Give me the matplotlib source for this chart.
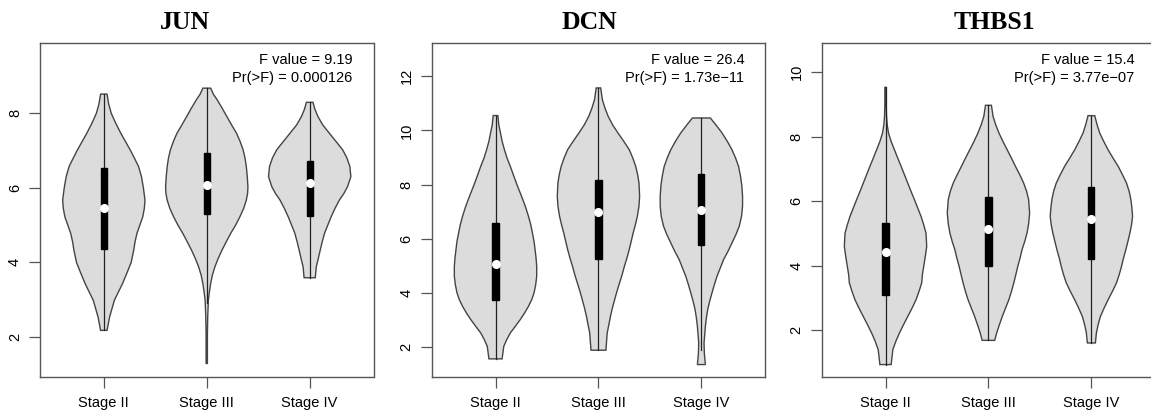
import numpy as np
import matplotlib
matplotlib.use("Agg")
import matplotlib.pyplot as plt

plt.rcParams["font.family"] = ["Liberation Sans", "DejaVu Sans"]

# categories and annotation text
stages = ["Stage II", "Stage III", "Stage IV"]
genes = ["JUN", "DCN", "THBS1"]
f_values = ["9.19", "26.4", "15.4"]
p_values = ["0.000126", "1.73e\u221211", "3.77e\u221207"]

# box stats per stage: lower whisker, q1, median, q3, upper whisker
jun_lo = [2.18, 2.90, 3.59]
jun_q1 = [4.35, 5.30, 5.24]
jun_med = [5.45, 6.08, 6.12]
jun_q3 = [6.54, 6.93, 6.72]
jun_hi = [8.51, 8.67, 8.29]

dcn_lo = [1.56, 1.88, 1.90]
dcn_q1 = [3.75, 5.25, 5.76]
dcn_med = [5.08, 6.98, 7.05]
dcn_q3 = [6.58, 8.15, 8.40]
dcn_hi = [10.55, 11.57, 10.46]

thbs1_lo = [0.94, 1.69, 1.61]
thbs1_q1 = [3.10, 3.98, 4.21]
thbs1_med = [4.43, 5.14, 5.45]
thbs1_q3 = [5.34, 6.13, 6.44]
thbs1_hi = [9.53, 8.97, 8.65]

# density outlines (expression level, relative density)
jun_levels = [
    [8.51, 8.25, 8.0, 7.73, 7.46, 7.23, 7.0, 6.78, 6.57, 6.3, 6.0, 5.67, 5.45, 5.22, 5.0, 4.78, 4.55, 4.33, 4.0, 3.72, 3.43, 3.2, 2.99, 2.75, 2.54, 2.18],
    [8.67, 8.5, 8.36, 8.14, 7.91, 7.68, 7.46, 7.24, 7.02, 6.8, 6.57, 6.3, 6.03, 5.85, 5.67, 5.45, 5.22, 5.0, 4.78, 4.55, 4.33, 4.1, 3.88, 3.65, 3.43, 3.2, 2.99, 2.54, 2.09, 1.29],
    [8.29, 8.1, 7.91, 7.68, 7.46, 7.24, 7.02, 6.8, 6.57, 6.3, 6.03, 5.85, 5.67, 5.45, 5.22, 5.0, 4.78, 4.55, 4.33, 4.1, 3.88, 3.59],
]
jun_dens = [
    [10, 15, 23, 37, 53, 68, 83, 96, 108, 117, 123, 128, 126, 121, 112, 103, 97, 93, 85, 72, 58, 45, 33, 25, 18, 10],
    [12, 21, 32, 47, 62, 77, 92, 103, 112, 118, 122, 125, 127, 126, 122, 114, 102, 89, 74, 60, 47, 35, 25, 17, 12, 8, 5, 3, 2, 2],
    [10, 16, 25, 40, 60, 80, 100, 113, 122, 125, 115, 104, 90, 77, 65, 55, 45, 38, 32, 26, 20, 17],
]

dcn_levels = [
    [10.55, 10.2, 9.91, 9.6, 9.29, 8.98, 8.67, 8.33, 8.0, 7.72, 7.44, 7.14, 6.83, 6.52, 6.21, 5.9, 5.6, 5.3, 4.98, 4.61, 4.3, 4.0, 3.75, 3.5, 3.25, 3.01, 2.76, 2.52, 2.27, 2.02, 1.56],
    [11.57, 11.14, 10.83, 10.52, 10.2, 9.91, 9.6, 9.29, 8.98, 8.67, 8.36, 8.06, 7.57, 7.2, 6.83, 6.52, 6.21, 5.9, 5.6, 5.29, 4.98, 4.67, 4.36, 4.05, 3.75, 3.44, 3.13, 2.82, 2.52, 1.88],
    [10.46, 10.2, 9.91, 9.6, 9.29, 8.98, 8.67, 8.3, 7.94, 7.57, 7.2, 6.83, 6.46, 6.15, 5.84, 5.53, 5.23, 4.92, 4.61, 4.3, 4.0, 3.69, 3.38, 3.07, 2.76, 2.45, 2.15, 1.75, 1.35],
]
dcn_dens = [
    [7, 10, 15, 20, 27, 35, 45, 55, 65, 74, 83, 92, 100, 107, 112, 117, 120, 123, 125, 125, 122, 117, 110, 100, 88, 75, 60, 45, 34, 25, 20],
    [7, 12, 20, 30, 44, 60, 78, 95, 106, 115, 121, 125, 127, 125, 120, 114, 107, 101, 95, 88, 80, 73, 65, 57, 50, 43, 37, 32, 27, 23],
    [27, 44, 62, 78, 92, 103, 112, 118, 122, 124, 124, 121, 114, 104, 92, 80, 67, 57, 47, 39, 32, 25, 19, 15, 12, 10, 8, 9, 12],
]

thbs1_levels = [
    [9.53, 9.0, 8.63, 8.37, 8.11, 7.85, 7.59, 7.33, 7.08, 6.82, 6.56, 6.3, 6.05, 5.79, 5.53, 5.27, 5.01, 4.6, 4.3, 3.98, 3.72, 3.47, 3.21, 2.95, 2.69, 2.43, 2.17, 1.92, 1.66, 1.4, 0.94],
    [8.97, 8.63, 8.37, 8.11, 7.85, 7.59, 7.33, 7.08, 6.82, 6.56, 6.3, 6.05, 5.63, 5.3, 5.01, 4.75, 4.5, 4.24, 3.98, 3.72, 3.47, 3.21, 2.95, 2.69, 2.43, 2.17, 1.92, 1.69],
    [8.65, 8.37, 8.11, 7.85, 7.59, 7.33, 7.08, 6.82, 6.56, 6.3, 6.05, 5.79, 5.53, 5.27, 5.01, 4.75, 4.5, 4.24, 3.98, 3.72, 3.47, 3.21, 2.95, 2.69, 2.43, 2.17, 1.92, 1.61],
]
thbs1_dens = [
    [2, 2, 3, 5, 9, 17, 27, 37, 47, 57, 67, 77, 87, 97, 107, 115, 122, 124, 120, 115, 111, 109, 101, 92, 80, 67, 54, 42, 31, 22, 17],
    [9, 14, 22, 32, 44, 57, 70, 82, 95, 107, 116, 122, 125, 122, 117, 110, 102, 96, 89, 83, 77, 70, 62, 52, 42, 33, 25, 19],
    [10, 17, 25, 37, 50, 65, 80, 93, 105, 113, 118, 121, 123, 120, 115, 109, 103, 96, 90, 83, 75, 63, 50, 38, 27, 20, 15, 12],
]

gene_stats = [
    (jun_lo, jun_q1, jun_med, jun_q3, jun_hi, jun_levels, jun_dens),
    (dcn_lo, dcn_q1, dcn_med, dcn_q3, dcn_hi, dcn_levels, dcn_dens),
    (thbs1_lo, thbs1_q1, thbs1_med, thbs1_q3, thbs1_hi, thbs1_levels, thbs1_dens),
]
y_ticks = [[2, 4, 6, 8], [2, 4, 6, 8, 10, 12], [2, 4, 6, 8, 10]]
y_lims = [(0.93, 9.88), (0.89, 13.23), (0.555, 10.9)]

W, H = 1151, 411
fig = plt.figure(figsize=(W / 100, H / 100), dpi=100)

ax_left = [40, 431.7, 821.7]
ax_w = 333.5
ax_bottom = 411 - 377
ax_h = 334
title_x = [185, 589, 994]

frame_col = "#555555"
fill_col = "#dcdcdc"

for k, gene in enumerate(genes):
    lo, q1, med, q3, hi, levels, dens = gene_stats[k]
    ax = fig.add_axes([ax_left[k] / W, ax_bottom / H, ax_w / W, ax_h / H])
    for i in range(len(stages)):
        pos = i + 1
        yy = np.array(levels[i])
        ww = np.array(dens[i], dtype=float)
        ww = ww / ww.max() * 0.4
        xs = np.concatenate([pos - ww, (pos + ww)[::-1]])
        ys = np.concatenate([yy, yy[::-1]])
        ax.fill(xs, ys, facecolor=fill_col, edgecolor="#444444", linewidth=1.0, zorder=2)
        ax.plot([pos, pos], [lo[i], hi[i]], color="#222222", linewidth=0.9, zorder=3)
        ax.add_patch(plt.Rectangle((pos - 0.03, q1[i]), 0.06, q3[i] - q1[i],
                                   facecolor="black", edgecolor="black", zorder=4))
        ax.plot(pos, med[i], "o", color="white", markersize=5.5, zorder=5)

    ax.set_xlim(0.38, 3.62)
    ax.set_ylim(*y_lims[k])
    ax.set_xticks([1, 2, 3])
    ax.set_xticklabels(stages)
    ax.set_yticks(y_ticks[k])
    ax.tick_params(axis="both", direction="out", length=8, width=0.9, color=frame_col,
                   labelsize=10.5)
    ax.tick_params(axis="x", pad=6)
    ax.tick_params(axis="y", labelrotation=90, pad=5)
    for lab in ax.get_yticklabels():
        lab.set_va("center")
    for sp in ax.spines.values():
        sp.set_color(frame_col)
        sp.set_linewidth(1.0)

    ax.text(1 - 21 / ax_w, 1 - 21 / ax_h, "F value = " + f_values[k],
            transform=ax.transAxes, ha="right", va="baseline", fontsize=10.5)
    ax.text(1 - 21 / ax_w, 1 - 39 / ax_h, "Pr(>F) = " + p_values[k],
            transform=ax.transAxes, ha="right", va="baseline", fontsize=10.5)

    fig.text(title_x[k] / W, 1 - 29 / H, gene, ha="center", va="baseline",
             fontsize=18.5, fontweight="bold", family="Liberation Serif")

fig.savefig("out.png", dpi=100)
